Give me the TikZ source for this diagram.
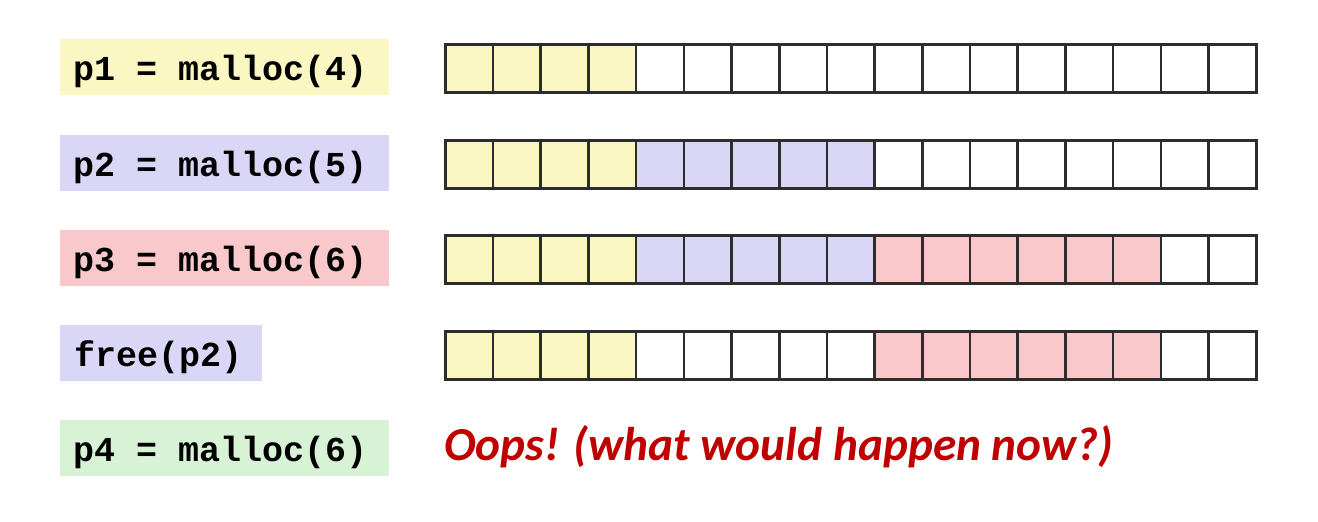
\documentclass[tikz,border=0pt]{standalone}
\usepackage{fontspec}
\newfontfamily\codefont{Liberation Mono}[BoldFont={* Bold}]
\newfontfamily\oopsfont{Carlito}
\newcommand\csp{\hspace*{0.6em}}
\definecolor{cy}{RGB}{250,247,195}
\definecolor{cp}{RGB}{218,214,245}
\definecolor{cr}{RGB}{248,200,203}
\definecolor{cg}{RGB}{215,242,213}
\definecolor{cw}{RGB}{255,255,255}
\definecolor{oops}{RGB}{192,0,0}
\definecolor{edge}{RGB}{45,45,45}
\tikzset{
  label/.style={anchor=north west, inner xsep=13pt, inner ysep=0pt, minimum height=56pt,
    align=left, font=\codefont\bfseries\fontsize{35}{35}\selectfont, text height=28.5pt, text depth=2.5pt},
  cell/.style={draw=edge, line width=2.6pt, minimum width=47.7pt, minimum height=48pt, inner sep=0pt, anchor=north west}
}
\begin{document}
\begin{tikzpicture}[x=1pt,y=-1pt]
\useasboundingbox (0,0) rectangle (1318,522);
\fill[white] (0,0) rectangle (1318,522);
% labels
\node[label, fill=cy, text width=303pt] (l1) at (60,39) {p1\csp=\csp{}malloc(4)};
\node[label, fill=cp, text width=303pt] (l2) at (60,135) {p2\csp=\csp{}malloc(5)};
\node[label, fill=cr, text width=303pt] (l3) at (60,230) {p3\csp=\csp{}malloc(6)};
\node[label, fill=cp, text width=174pt, inner xsep=14pt] (l4) at (60,325) {free(p2)};
\node[label, fill=cg, text width=303pt] (l5) at (60,420) {p4\csp=\csp{}malloc(6)};
% memory rows
\foreach \r/\y/\cols in {
  1/43/{cy,cy,cy,cy,cw,cw,cw,cw,cw,cw,cw,cw,cw,cw,cw,cw,cw},
  2/139/{cy,cy,cy,cy,cp,cp,cp,cp,cp,cw,cw,cw,cw,cw,cw,cw,cw},
  3/234/{cy,cy,cy,cy,cp,cp,cp,cp,cp,cr,cr,cr,cr,cr,cr,cw,cw},
  4/330/{cy,cy,cy,cy,cw,cw,cw,cw,cw,cr,cr,cr,cr,cr,cr,cw,cw}}{
  \foreach \c [count=\i from 0] in \cols {
    \node[cell, fill=\c] (m\r-\i) at ({444+47.7*\i},\y) {};
  }
}
\node[anchor=base west, inner sep=0pt, text=oops, font=\oopsfont\bfseries\itshape\fontsize{47.3}{47.3}\selectfont] (oops) at (444,460) {Oops! (what would happen now?)};
\end{tikzpicture}
\end{document}
